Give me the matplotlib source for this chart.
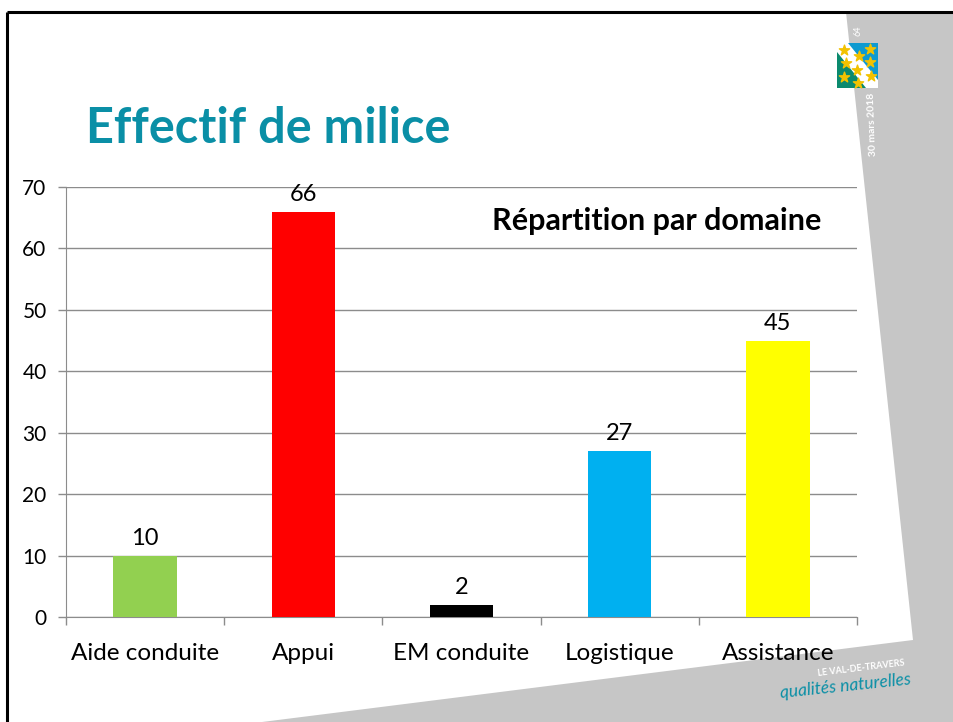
import matplotlib.pyplot as plt
from matplotlib.patches import Polygon

# chart data
categories = ['Aide conduite', 'Appui', 'EM conduite', 'Logistique', 'Assistance']
values = [10, 66, 2, 27, 45]
bar_colors = ['#92D050', '#FF0000', '#000000', '#00B0F0', '#FFFF00']
y_ticks = [0, 10, 20, 30, 40, 50, 60, 70]

TEAL = '#0A8FA6'
GRAY = '#C6C6C6'
FONT = 'Lato'

fig = plt.figure(figsize=(9.54, 7.22), dpi=100)

# slide background drawn in pixel coords
bg = fig.add_axes([0, 0, 1, 1], zorder=0)
bg.set_xlim(0, 954)
bg.set_ylim(722, 0)
bg.axis('off')
bg.add_patch(Polygon([(846, 12), (954, 12), (954, 722), (262, 722), (913, 640)],
                     closed=True, facecolor=GRAY, edgecolor='none'))
bg.plot([7, 954], [12, 12], color='black', lw=2.2, solid_capstyle='butt')
bg.plot([7, 7], [12, 722], color='black', lw=2.2, solid_capstyle='butt')

# flag logo
bg.add_patch(Polygon([(837, 43), (878, 43), (878, 88), (837, 88)], facecolor='#0E9AD0', edgecolor='none'))
bg.add_patch(Polygon([(837, 43), (848, 43), (878, 80), (878, 88), (837, 88)], facecolor='white', edgecolor='none'))
bg.add_patch(Polygon([(837, 52), (866, 88), (837, 88)], facecolor='#0B8A6E', edgecolor='none'))
bg.scatter([844, 846, 844, 859, 870, 857, 870, 871, 858],
           [50, 63, 77, 56, 49, 70, 62, 76, 83], marker='*', s=60, color='#F2C200', zorder=3)
bg.text(858, 31, '64', rotation=90, color='white', fontsize=6.5, ha='center', va='center', family=FONT)
bg.text(872, 124, '30 mars 2018', rotation=92, color='white', fontsize=7.5, ha='center', va='center',
        family=FONT, fontweight='bold')

# bottom right brand
bg.text(905, 668, 'LE VAL-DE-TRAVERS', color='white', fontsize=6.5, ha='right', va='center',
        family=FONT, fontweight='bold', rotation=7)
bg.text(846, 686, 'qualités naturelles', color=TEAL, fontsize=12.5, ha='center', va='center',
        family=FONT, style='italic', rotation=6)

# title
fig.text(86 / 954, 1 - 143 / 722, 'Effectif de milice', color=TEAL, fontsize=35,
         fontweight='bold', family=FONT, ha='left', va='baseline')

# bar chart
ax = fig.add_axes([66 / 954, 105 / 722, 791 / 954, 430 / 722], zorder=1)
ax.patch.set_alpha(0)
x = range(len(categories))
bars = ax.bar(x, values, width=0.4, color=bar_colors, zorder=3)
for b, v in zip(bars, values):
    ax.text(b.get_x() + b.get_width() / 2, v + 1.1, str(v), ha='center', va='bottom',
            fontsize=17, family=FONT)

ax.set_xlim(-0.5, len(categories) - 0.5)
ax.set_ylim(0, 70)
ax.set_yticks(y_ticks)
ax.set_yticklabels([str(t) for t in y_ticks], fontsize=15, family=FONT)
ax.set_xticks(list(x))
ax.set_xticklabels(categories, fontsize=17.5, family=FONT)
ax.set_xticks([i - 0.5 for i in range(len(categories) + 1)], minor=True)
ax.tick_params(axis='x', which='major', length=0, pad=19)
ax.tick_params(axis='x', which='minor', length=6, color='#8C8C8C', width=1)
ax.tick_params(axis='y', length=6, color='#8C8C8C', width=1, pad=8)
ax.yaxis.grid(True, color='#8C8C8C', lw=1, zorder=0)
for s in ['top', 'right']:
    ax.spines[s].set_visible(False)
ax.spines['left'].set_color('#8C8C8C')
ax.spines['bottom'].set_color('#8C8C8C')

ax.text(0.955, 0.92, 'Répartition par domaine', transform=ax.transAxes, ha='right', va='center',
        fontsize=22, fontweight='bold', family=FONT)

fig.savefig('out.png', dpi=100)
